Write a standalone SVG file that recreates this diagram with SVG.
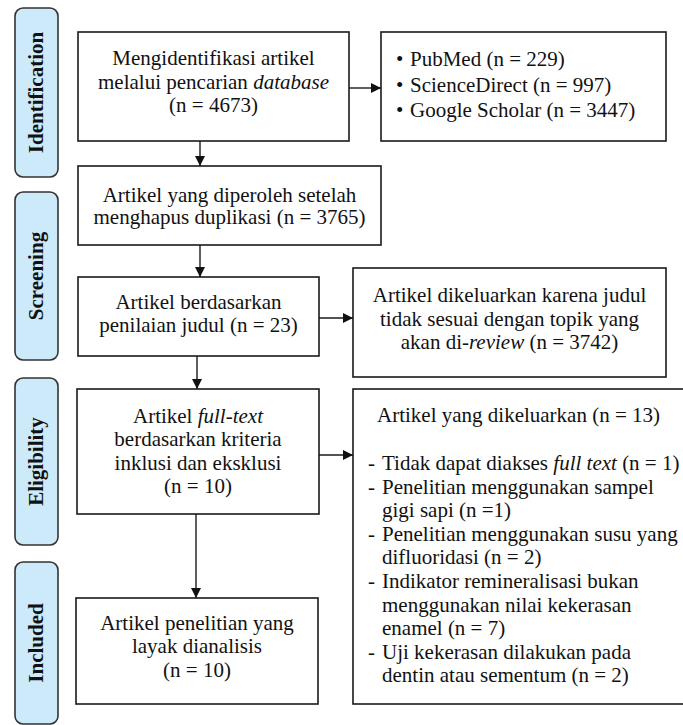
<svg xmlns="http://www.w3.org/2000/svg" width="683" height="725" viewBox="0 0 683 725">
<defs>
  <marker id="ah" markerUnits="userSpaceOnUse" markerWidth="12" markerHeight="12" refX="10" refY="5" orient="auto">
    <path d="M0,0 L10,5 L0,10 Z" fill="#111111"/>
  </marker>
</defs>
<rect x="0" y="0" width="683" height="725" fill="#ffffff"/>

<g id="n-identify">
  <text font-family="Liberation Serif" font-size="21" fill="#111111" text-anchor="middle" x="213.5" y="65">Mengidentifikasi artikel</text>
  <text font-family="Liberation Serif" font-size="21" fill="#111111" text-anchor="middle" x="213.5" y="88.5">melalui pencarian <tspan font-style="italic">database</tspan></text>
  <text font-family="Liberation Serif" font-size="21" fill="#111111" text-anchor="middle" x="213.5" y="112">(n = 4673)</text>
  <rect x="78" y="32" width="271" height="109" fill="none" stroke="#1a1a1a" stroke-width="1.6"/>
</g>
<g id="n-sources">
  <text font-family="Liberation Serif" font-size="21" fill="#111111" x="396" y="66">•</text>
  <text font-family="Liberation Serif" font-size="21" fill="#111111" x="410" y="66">PubMed (n = 229)</text>
  <text font-family="Liberation Serif" font-size="21" fill="#111111" x="396" y="91.5">•</text>
  <text font-family="Liberation Serif" font-size="21" fill="#111111" x="410" y="91.5">ScienceDirect (n = 997)</text>
  <text font-family="Liberation Serif" font-size="21" fill="#111111" x="396" y="117">•</text>
  <text font-family="Liberation Serif" font-size="21" fill="#111111" x="410" y="117">Google Scholar (n = 3447)</text>
  <rect x="381" y="32" width="285" height="109" fill="none" stroke="#1a1a1a" stroke-width="1.6"/>
</g>
<g id="n-dedup">
  <text font-family="Liberation Serif" font-size="21" fill="#111111" text-anchor="middle" x="229.5" y="201.5">Artikel yang diperoleh setelah</text>
  <text font-family="Liberation Serif" font-size="21" fill="#111111" text-anchor="middle" x="229.5" y="224">menghapus duplikasi (n = 3765)</text>
  <rect x="78" y="166" width="303" height="79" fill="none" stroke="#1a1a1a" stroke-width="1.6"/>
</g>
<g id="n-title">
  <text font-family="Liberation Serif" font-size="21" fill="#111111" text-anchor="middle" x="198.5" y="309">Artikel berdasarkan</text>
  <text font-family="Liberation Serif" font-size="21" fill="#111111" text-anchor="middle" x="198.5" y="332">penilaian judul (n = 23)</text>
  <rect x="78" y="277" width="241" height="79" fill="none" stroke="#1a1a1a" stroke-width="1.6"/>
</g>
<g id="n-title-excluded">
  <text font-family="Liberation Serif" font-size="21" fill="#111111" text-anchor="middle" x="509.5" y="302">Artikel dikeluarkan karena judul</text>
  <text font-family="Liberation Serif" font-size="21" fill="#111111" text-anchor="middle" x="509.5" y="325.5">tidak sesuai dengan topik yang</text>
  <text font-family="Liberation Serif" font-size="21" fill="#111111" text-anchor="middle" x="509.5" y="349">akan di-<tspan font-style="italic">review</tspan> (n = 3742)</text>
  <rect x="353" y="268" width="313" height="109" fill="none" stroke="#1a1a1a" stroke-width="1.6"/>
</g>
<g id="n-fulltext">
  <text font-family="Liberation Serif" font-size="21" fill="#111111" text-anchor="middle" x="198" y="423">Artikel <tspan font-style="italic">full-text</tspan></text>
  <text font-family="Liberation Serif" font-size="21" fill="#111111" text-anchor="middle" x="198" y="446">berdasarkan kriteria</text>
  <text font-family="Liberation Serif" font-size="21" fill="#111111" text-anchor="middle" x="198" y="469.5">inklusi dan eksklusi</text>
  <text font-family="Liberation Serif" font-size="21" fill="#111111" text-anchor="middle" x="198" y="493">(n = 10)</text>
  <rect x="77" y="389" width="242" height="125" fill="none" stroke="#1a1a1a" stroke-width="1.6"/>
</g>
<g id="n-fulltext-excluded">
  <text font-family="Liberation Serif" font-size="21" fill="#111111" x="377" y="422">Artikel yang dikeluarkan (n = 13)</text>
  <text font-family="Liberation Serif" font-size="21" fill="#111111" x="368" y="470">-</text>
  <text font-family="Liberation Serif" font-size="21" fill="#111111" x="382" y="470">Tidak dapat diakses <tspan font-style="italic">full text</tspan> (n = 1)</text>
  <text font-family="Liberation Serif" font-size="21" fill="#111111" x="368" y="493.5">-</text>
  <text font-family="Liberation Serif" font-size="21" fill="#111111" x="382" y="493.5">Penelitian menggunakan sampel</text>
  <text font-family="Liberation Serif" font-size="21" fill="#111111" x="382" y="517">gigi sapi (n =1)</text>
  <text font-family="Liberation Serif" font-size="21" fill="#111111" x="368" y="540.5">-</text>
  <text font-family="Liberation Serif" font-size="21" fill="#111111" x="382" y="540.5">Penelitian menggunakan susu yang</text>
  <text font-family="Liberation Serif" font-size="21" fill="#111111" x="382" y="564">difluoridasi (n = 2)</text>
  <text font-family="Liberation Serif" font-size="21" fill="#111111" x="368" y="588">-</text>
  <text font-family="Liberation Serif" font-size="21" fill="#111111" x="382" y="588">Indikator remineralisasi bukan</text>
  <text font-family="Liberation Serif" font-size="21" fill="#111111" x="382" y="611.5">menggunakan nilai kekerasan</text>
  <text font-family="Liberation Serif" font-size="21" fill="#111111" x="382" y="635">enamel (n = 7)</text>
  <text font-family="Liberation Serif" font-size="21" fill="#111111" x="368" y="659">-</text>
  <text font-family="Liberation Serif" font-size="21" fill="#111111" x="382" y="659">Uji kekerasan dilakukan pada</text>
  <text font-family="Liberation Serif" font-size="21" fill="#111111" x="382" y="682">dentin atau sementum (n = 2)</text>
  <rect x="353" y="389" width="345" height="315" fill="none" stroke="#1a1a1a" stroke-width="1.6"/>
</g>
<g id="n-included">
  <text font-family="Liberation Serif" font-size="21" fill="#111111" text-anchor="middle" x="197" y="630">Artikel penelitian yang</text>
  <text font-family="Liberation Serif" font-size="21" fill="#111111" text-anchor="middle" x="197" y="653">layak dianalisis</text>
  <text font-family="Liberation Serif" font-size="21" fill="#111111" text-anchor="middle" x="197" y="676.5">(n = 10)</text>
  <rect x="76" y="598" width="242" height="106" fill="none" stroke="#1a1a1a" stroke-width="1.6"/>
</g>

<g id="connectors" stroke="#1a1a1a" stroke-width="1.4" fill="none" marker-end="url(#ah)">
  <line x1="349" y1="88" x2="381" y2="88"/>
  <line x1="200" y1="141" x2="200" y2="166"/>
  <line x1="200" y1="245" x2="200" y2="277"/>
  <line x1="319" y1="318" x2="353" y2="318"/>
  <line x1="197" y1="356" x2="197" y2="389"/>
  <line x1="319" y1="455" x2="353" y2="455"/>
  <line x1="196" y1="514" x2="196" y2="598"/>
</g>

<g id="side-identification">
  <rect x="15" y="8" width="43" height="169" rx="8" fill="#cdeafb" stroke="#333333" stroke-width="1.6"/>
  <text font-family="Liberation Serif" font-size="21" font-weight="bold" fill="#111111" text-anchor="middle" transform="translate(43,92.5) rotate(-90)">Identification</text>
</g>
<g id="side-screening">
  <rect x="15" y="192" width="43" height="168" rx="8" fill="#cdeafb" stroke="#333333" stroke-width="1.6"/>
  <text font-family="Liberation Serif" font-size="21" font-weight="bold" fill="#111111" text-anchor="middle" transform="translate(43,276) rotate(-90)">Screening</text>
</g>
<g id="side-eligibility">
  <rect x="15" y="378" width="43" height="167" rx="8" fill="#cdeafb" stroke="#333333" stroke-width="1.6"/>
  <text font-family="Liberation Serif" font-size="21" font-weight="bold" fill="#111111" text-anchor="middle" transform="translate(43,461.5) rotate(-90)">Eligibility</text>
</g>
<g id="side-included">
  <rect x="15" y="562" width="43" height="162" rx="8" fill="#cdeafb" stroke="#333333" stroke-width="1.6"/>
  <text font-family="Liberation Serif" font-size="21" font-weight="bold" fill="#111111" text-anchor="middle" transform="translate(43,643) rotate(-90)">Included</text>
</g>
</svg>
